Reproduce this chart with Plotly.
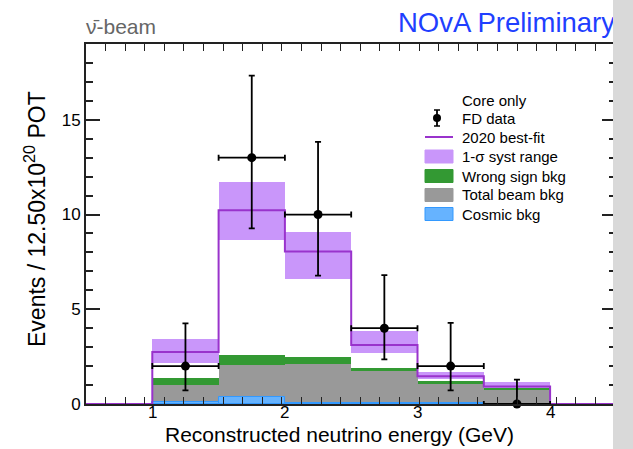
import plotly.graph_objects as go

# ---------------- data ----------------
bin_edges = [1.0, 1.5, 2.0, 2.5, 3.0, 3.5, 4.0]
bin_centers = [1.25, 1.75, 2.25, 2.75, 3.25, 3.75]
best_fit = [2.75, 10.23, 8.05, 3.12, 1.46, 0.93]
syst_lo = [2.17, 8.65, 6.58, 2.69, 1.30, 0.76]
syst_hi = [3.45, 11.70, 9.07, 3.86, 1.67, 1.15]
beam_bkg = [1.02, 2.04, 2.13, 1.74, 1.08, 0.76]
wrong_sign_top = [1.37, 2.56, 2.48, 1.92, 1.22, 0.80]
cosmic_bkg = [0.10, 0.35, 0.05, 0.04, 0.03, 0.02]
fd_data = [2, 13, 10, 4, 2, 0]
fd_err_hi = [4.25, 17.33, 13.83, 6.80, 4.28, 1.29]
fd_err_lo = [0.72, 9.27, 6.78, 2.35, 0.72, 0.0]
x_range = [0.5, 4.497]
y_range = [0, 19]
x_ticks = [1, 2, 3, 4]
y_ticks = [0, 5, 10, 15]

PURPLE = "#9933cc"
BAND = "#c996fa"
GREEN = "#339933"
GRAY = "#999999"
BLUE = "#66b3ff"
BLUE_EDGE = "#3399ff"
FONT = "Liberation Sans"

widths = [bin_edges[i + 1] - bin_edges[i] for i in range(len(bin_centers))]

fig = go.Figure()

# systematic band
fig.add_trace(go.Bar(x=bin_centers, y=[h - l for h, l in zip(syst_hi, syst_lo)], base=syst_lo,
                     width=widths, marker=dict(color=BAND, line=dict(width=0)), showlegend=False))
# total beam bkg
fig.add_trace(go.Bar(x=bin_centers, y=beam_bkg, base=[0] * len(beam_bkg), width=widths,
                     marker=dict(color=GRAY, line=dict(width=0)), showlegend=False))
# wrong sign
fig.add_trace(go.Bar(x=bin_centers, y=[t - b for t, b in zip(wrong_sign_top, beam_bkg)], base=beam_bkg,
                     width=widths, marker=dict(color=GREEN, line=dict(width=0)), showlegend=False))
# cosmic
fig.add_trace(go.Bar(x=bin_centers, y=cosmic_bkg, base=[0] * len(cosmic_bkg), width=widths,
                     marker=dict(color=BLUE, line=dict(width=1, color=BLUE_EDGE)), showlegend=False))

# best fit step line
step_x = [x_range[0]] + bin_edges + [x_range[1]]
step_y = [0] + best_fit + [0, 0]
fig.add_trace(go.Scatter(x=step_x, y=step_y, mode="lines", line=dict(shape="hv", color=PURPLE, width=2),
                         showlegend=False))

# data
fig.add_trace(go.Scatter(
    x=bin_centers, y=fd_data, mode="markers",
    marker=dict(color="black", size=9),
    error_x=dict(type="data", array=[w / 2 for w in widths], color="black", thickness=1.8, width=3),
    error_y=dict(type="data", symmetric=False,
                 array=[h - d for h, d in zip(fd_err_hi, fd_data)],
                 arrayminus=[d - l for d, l in zip(fd_data, fd_err_lo)],
                 color="black", thickness=1.8, width=3),
    cliponaxis=False, showlegend=False))

L, R, T, B = 86, 17, 44, 45
W, H = 633, 449
PW, PH = W - L - R, H - T - B


def px(x):
    return (x - L) / PW


def py(y):
    return (T + PH - y) / PH


annotations = [
    dict(text="Reconstructed neutrino energy (GeV)", x=px(339), y=py(435), xref="paper", yref="paper",
         xanchor="center", yanchor="middle", showarrow=False, font=dict(size=21, color="black", family=FONT)),
    dict(text="Events / 12.50x10<sup>20</sup> POT", x=px(35), y=py(219), xref="paper", yref="paper",
         xanchor="center", yanchor="middle", textangle=-90, showarrow=False,
         font=dict(size=23, color="black", family=FONT)),
    dict(text="\u03bd\u0304-beam", x=px(84), y=py(27), xref="paper", yref="paper", xanchor="left",
         yanchor="middle", showarrow=False, font=dict(size=21, color="#666666", family=FONT)),
    dict(text="NOvA Preliminary", x=px(396), y=py(22), xref="paper", yref="paper", xanchor="left",
         yanchor="middle", showarrow=False, font=dict(size=27.5, color="#1f3fff", family=FONT)),
]

# x tick labels
for t in x_ticks:
    annotations.append(dict(text=str(t), x=t, xref="x", y=py(413), yref="paper", xanchor="center",
                            yanchor="middle", showarrow=False, font=dict(size=17, color="black", family=FONT)))

shapes = []
leg_text_x = 460
leg_rows = [
    ("Core only", 100, None),
    ("FD data", 118, "data"),
    ("2020 best-fit", 137, "line"),
    ("1-\u03c3 syst range", 156.5, BAND),
    ("Wrong sign bkg", 176, GREEN),
    ("Total beam bkg", 195, GRAY),
    ("Cosmic bkg", 214, BLUE),
]
for label, yc, kind in leg_rows:
    annotations.append(dict(text=label, x=px(leg_text_x), y=py(yc), xref="paper", yref="paper",
                            xanchor="left", yanchor="middle", showarrow=False,
                            font=dict(size=15, color="black", family=FONT)))
    if kind == "data":
        shapes.append(dict(type="line", xref="paper", yref="paper", x0=px(437), x1=px(437),
                           y0=py(110), y1=py(126), line=dict(color="black", width=1.8)))
        for yy in (110, 126):
            shapes.append(dict(type="line", xref="paper", yref="paper", x0=px(434), x1=px(440),
                               y0=py(yy), y1=py(yy), line=dict(color="black", width=1.5)))
        shapes.append(dict(type="circle", xref="paper", yref="paper", x0=px(433), x1=px(441),
                           y0=py(122), y1=py(114), fillcolor="black", line=dict(color="black", width=0)))
    elif kind == "line":
        shapes.append(dict(type="line", xref="paper", yref="paper", x0=px(425), x1=px(453),
                           y0=py(yc), y1=py(yc), line=dict(color=PURPLE, width=2)))
    elif kind is not None:
        edge = BLUE_EDGE if kind == BLUE else kind
        shapes.append(dict(type="rect", xref="paper", yref="paper", x0=px(425), x1=px(453),
                           y0=py(yc + 6.5), y1=py(yc - 6.5), fillcolor=kind,
                           line=dict(color=edge, width=1)))

# gray strip on the right (drawn last so it covers the title)
annotations.append(dict(text=" ", x=px(613), y=py(H / 2), xref="paper", yref="paper", xanchor="left",
                        yanchor="middle", showarrow=False, width=24, height=H + 4, bgcolor="#d9d9d9",
                        borderpad=0, borderwidth=0))

fig.update_layout(
    width=W, height=H,
    margin=dict(l=L, r=R, t=T, b=B, pad=0),
    paper_bgcolor="white", plot_bgcolor="white",
    barmode="overlay", bargap=0,
    showlegend=False,
    font=dict(family=FONT, color="black"),
    annotations=annotations,
    shapes=shapes,
    xaxis=dict(range=x_range, tickmode="array", tickvals=x_ticks, showticklabels=False,
               ticks="inside", ticklen=0, showgrid=False, zeroline=False,
               showline=True, linecolor="#222222", linewidth=2, mirror="allticks",
               minor=dict(tickmode="linear", tick0=0.5, dtick=0.1478, ticks="inside", ticklen=7,
                          tickcolor="#222222", showgrid=False)),
    yaxis=dict(range=y_range, tickmode="array", tickvals=y_ticks, ticks="inside", ticklen=14,
               tickcolor="#222222", tickwidth=1.5, showgrid=False, zeroline=False,
               showline=True, linecolor="#222222", linewidth=2, mirror="allticks",
               tickfont=dict(size=17, family=FONT, color="black"),
               minor=dict(tickmode="linear", tick0=0, dtick=1, ticks="inside", ticklen=7,
                          tickcolor="#222222", showgrid=False)),
)

fig.write_html("out.html")
